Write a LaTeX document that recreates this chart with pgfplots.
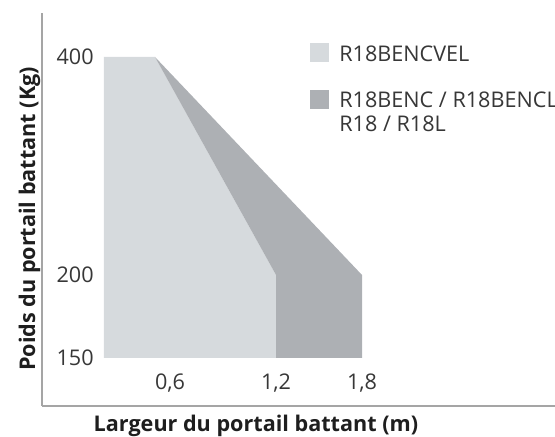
\documentclass[border=0pt]{standalone}
\usepackage{fontspec}
\setmainfont{Open Sans}
\usepackage{pgfplots}
\pgfplotsset{compat=1.18}
\definecolor{lightfill}{RGB}{214,218,221}
\definecolor{darkfill}{RGB}{173,176,180}
\definecolor{axgray}{RGB}{165,165,165}
\definecolor{txt}{RGB}{55,55,55}
\definecolor{lbl}{RGB}{30,30,30}
\begin{document}
\begin{tikzpicture}
\begin{axis}[
  scale only axis, width=256.5pt, height=196.5pt,
  x coord trafo/.code={\pgfmathparse{((#1)<=0.6) ? (104+110*(#1)) : (((#1)<=1.2) ? (170+176.667*((#1)-0.6)) : (276+143.333*((#1)-1.2)))}},
  y coord trafo/.code={\pgfmathparse{((#1)<=200) ? (48+1.66*((#1)-150)) : (131+1.09*((#1)-200))}},
  xmin=-0.5636, xmax=3.1465, ymin=121.08, ymax=440.37,
  axis x line*=bottom, axis y line*=left,
  axis line style={axgray, line width=0.75pt},
  major tick length=0pt,
  xtick={0.6,1.2,1.8}, xticklabels={{0,6},{1,2},{1,8}},
  ytick={150,200,400}, yticklabels={150,200,400},
  tick label style={font=\fontsize{10.8}{12}\selectfont, text=txt},
  yticklabel style={anchor=east, inner sep=0pt, xshift=26pt},
  xticklabel style={anchor=base, inner sep=0pt, yshift=8pt},
  xlabel={Largeur du portail battant (m)},
  ylabel={Poids du portail battant (Kg)},
  xlabel style={at={(rel axis cs:0.417,-0.066)}, anchor=base, font=\bfseries\fontsize{10.8}{12}\selectfont, text=lbl, inner sep=0pt},
  ylabel style={at={(rel axis cs:-0.0136,0.476)}, anchor=base, font=\bfseries\fontsize{10.8}{12}\selectfont, text=lbl, inner sep=0pt},
  legend image code/.code={\fill[#1] (0pt,-0.5pt) rectangle (9.5pt,9pt);},
  legend style={at={(rel axis cs:0.5224,0.9288)}, anchor=north west, draw=none, fill=none, inner sep=0pt,
    font=\fontsize{10.8}{12}\selectfont, text=txt, row sep=10pt, column sep=3pt,
    cells={anchor=base west, align=left}},
]
\addplot[fill=lightfill, draw=none] coordinates {(0,150) (0,400) (0.4636,400) (1.2,200) (1.2,150)} -- cycle;
\addlegendentry{R18BENCVEL}
\addplot[fill=darkfill, draw=none, legend image code/.code={\fill[fill=darkfill, draw=none] (0pt,11.5pt) rectangle (9.5pt,21pt);}] coordinates {(0.4636,400) (1.8,200) (1.8,150) (1.2,150) (1.2,200)} -- cycle;
\addlegendentry{R18BENC / R18BENCL\\R18 / R18L}
\coordinate (bl) at (rel axis cs:0,0);
\end{axis}
\pgfresetboundingbox
\path[use as bounding box] (bl) ++(-21pt,-15.5pt) rectangle ++(277.5pt,218.5pt);
\end{tikzpicture}
\end{document}
